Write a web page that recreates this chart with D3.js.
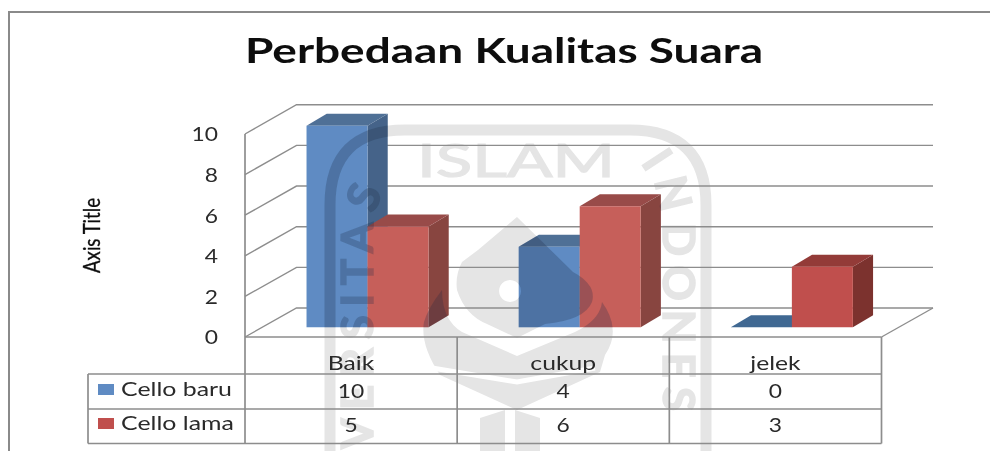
<!DOCTYPE html>
<html><head><meta charset="utf-8">
<script src="https://cdn.jsdelivr.net/npm/d3@7"></script>
<style>html,body{margin:0;padding:0;background:#fff}svg{display:block}text{font-family:Lato,"Open Sans",sans-serif}</style>
</head><body><svg id="c" width="990" height="451"></svg>
<script>
const titleText = "Perbedaan Kualitas Suara";
const axisTitle = "Axis Title";
const categories = ["Baik", "cukup", "jelek"];
const seriesNames = ["Cello baru", "Cello lama"];
const celloBaru = [10, 4, 0];
const celloLama = [5, 6, 3];
const yTicks = [0, 2, 4, 6, 8, 10];

const blueShades = {front:"#5e8bc3", top:"#4f6f96", side:"#446489"};
const redShades = {front:"#c65f5a", top:"#984b48", side:"#884541"};
const redShadesPlain = {front:"#c0504d", top:"#933a37", side:"#7c302e"};
const gridColor = "#8d8d8d", inkColor = "#2a2a2a", markColor = "#e5e5e5";

const svg = d3.select("#c");
const defs = svg.append("defs");
defs.html('<filter id="soft" x="0" y="0" width="990" height="451" filterUnits="userSpaceOnUse"><feGaussianBlur stdDeviation="0.45"/></filter>');
const root = svg.append("g").attr("filter", "url(#soft)");

const yFront = d3.scaleLinear().domain([0, 10]).range([337, 134]);
const yBack  = d3.scaleLinear().domain([0, 10]).range([308, 104.7]);
const yBar   = d3.scaleLinear().domain([0, 10]).range([327.3, 125.7]);
const xCat = d3.scaleBand().domain(categories).range([245, 881.5]);
const xBar = d => xCat(d) + xCat.bandwidth() * 0.29;
const barW = xCat.bandwidth() * 0.2875;
const depth = {dx: 51.5, dy: -29};
const barDepth = {dx: 20.2, dy: -12};

function stretch(sel, f) {
  sel.each(function () {
    const len = this.getComputedTextLength();
    d3.select(this).attr("textLength", len * f).attr("lengthAdjust", "spacingAndGlyphs");
  });
  return sel;
}

// Frame
root.append("path").attr("d", "M9,451V12H990").attr("fill", "none").attr("stroke", "#8a8a8a").attr("stroke-width", 2);

// Watermark (university emblem behind the chart)
const wm = root.append("g").attr("color", markColor).append("g").attr("id", "wm");
wm.append("path").attr("d", "M330,451V205Q330,130 405,130H630Q706,130 706,205V451").attr("fill", "none").attr("stroke", "currentColor").attr("stroke-width", 11);
wm.append("text").attr("x", 417).attr("y", 177).attr("font-size", 47)
  .attr("fill", "currentColor").attr("stroke", "currentColor").attr("stroke-width", 1.2)
  .attr("textLength", 198).attr("lengthAdjust", "spacingAndGlyphs").text("ISLAM");
wm.append("path").attr("id", "wmL").attr("d", "M373,449V235Q373,205 390,180").attr("fill", "none");
wm.append("path").attr("id", "wmR").attr("d", "M640,163Q663,190 663,235V449").attr("fill", "none");
wm.append("text").attr("font-size", 44).attr("font-weight", 700).attr("fill", "currentColor").attr("stroke", "currentColor").attr("stroke-width", 1.5).attr("letter-spacing", 8.5)
  .append("textPath").attr("href", "#wmL").text("VERSITAS");
wm.append("text").attr("font-size", 44).attr("font-weight", 700).attr("fill", "currentColor").attr("stroke", "currentColor").attr("stroke-width", 1.5).attr("letter-spacing", 9)
  .append("textPath").attr("href", "#wmR").text("INDONES");
wm.append("path").attr("fill", "currentColor").attr("fill-rule", "evenodd")
  .attr("d", "M517,217L573,272Q597,285 592,302Q585,320 545,324L517,338L487,324Q465,315 457,290Q455,275 462,262L478,250ZM510,280a11,11 0 1,0 0.1,0Z");
wm.append("path").attr("fill", "currentColor")
  .attr("d", "M602,302Q622,330 605,355L600,372L517,410L440,375Q420,345 424,322Q428,308 442,290Q442,320 462,332L517,356L575,332Q600,320 602,302Z");
wm.append("path").attr("fill", "none").attr("stroke", "#fff").attr("stroke-width", 5).attr("d", "M432,368L517,382L595,368");
wm.append("path").attr("fill", "currentColor").attr("d", "M480,451V418L505,410V451ZM515,451V410L540,418V451Z");

// Walls and gridlines
const wall = root.append("g").attr("fill", "none").attr("stroke", gridColor).attr("stroke-width", 1.4);
wall.selectAll("path.g").data(yTicks).join("path").attr("class", "g")
  .attr("d", v => d3.line()([[xCat.range()[0], yFront(v)], [xCat.range()[0] + depth.dx, yBack(v)], [xCat.range()[1] + depth.dx, yBack(v)]]));
wall.append("path").attr("d", d3.line()([[xCat.range()[1] + depth.dx, yBack(0)], [xCat.range()[1], yFront(0)]]));

// Bars
const barRows = [];
categories.forEach((c, i) => {
  barRows.push({c, i, s: 0, v: celloBaru[i], shades: blueShades});
  barRows.push({c, i, s: 1, v: celloLama[i], shades: i === 2 ? redShadesPlain : redShades});
});
const barFaces = d => {
  const x0 = xBar(d.c) + d.s * barW, x1 = x0 + barW, y0 = yBar(0), y1 = yBar(d.v), a = barDepth.dx, b = barDepth.dy;
  return {
    side: d3.line()([[x1, y0], [x1 + a, y0 + b], [x1 + a, y1 + b], [x1, y1]]) + "Z",
    top: d3.line()([[x0, y1], [x0 + a, y1 + b], [x1 + a, y1 + b], [x1, y1]]) + "Z",
    front: d3.line()([[x0, y0], [x1, y0], [x1, y1], [x0, y1]]) + "Z"
  };
};
const bars = root.append("g");
barRows.forEach(d => {
  const f = barFaces(d), g = bars.append("g");
  g.append("path").attr("d", f.side).attr("fill", d.shades.side);
  g.append("path").attr("d", f.top).attr("fill", d.v === 0 ? "#3f6792" : d.shades.top);
  g.append("path").attr("d", f.front).attr("fill", d.shades.front);
});
const clip = defs.append("clipPath").attr("id", "barClip");
barRows.forEach(d => { const f = barFaces(d); clip.append("path").attr("d", f.side + f.top + f.front); });
// The watermark shows through the bars as a darker shade: reuse it, no second set of text
root.append("g").attr("clip-path", "url(#barClip)").attr("opacity", 0.25).attr("color", "#1f2a44")
  .append("use").attr("href", "#wm");

// Value axis
const axis = root.append("g").attr("transform", "translate(218,0)")
  .call(d3.axisLeft(yFront).tickValues(yTicks).tickSize(0).tickPadding(0).tickFormat(d3.format("d")));
axis.select(".domain").remove();
axis.selectAll("text").attr("font-size", 19).attr("fill", inkColor).attr("dy", "0.36em")
  .style("font-family", "Lato").call(stretch, 1.2);

// Axis title
root.append("text").attr("transform", "translate(100,235.5) rotate(-90)").attr("text-anchor", "middle")
  .attr("font-size", 23).attr("fill", "#111").attr("stroke", "#111").attr("stroke-width", 0.35)
  .attr("textLength", 75).attr("lengthAdjust", "spacingAndGlyphs").text(axisTitle);

// Chart title
root.append("text").attr("x", 245).attr("y", 63).attr("font-size", 34).attr("font-weight", 700).attr("fill", "#0a0a0a")
  .attr("textLength", 518).attr("lengthAdjust", "spacingAndGlyphs").text(titleText);

// Data table
const rowY = [337, 374, 409, 443.5];
const tableLeft = 88;
const grid = root.append("g").attr("stroke", gridColor).attr("stroke-width", 1.7).attr("fill", "none");
xCat.domain().concat(["end"]).forEach((c, i) => {
  const x = c === "end" ? xCat.range()[1] : xCat(c);
  grid.append("line").attr("x1", x).attr("x2", x).attr("y1", i === 0 ? yFront(10) : rowY[0]).attr("y2", rowY[3]);
});
rowY.forEach((y, i) => grid.append("line").attr("x1", i === 0 ? xCat.range()[0] : tableLeft).attr("x2", xCat.range()[1]).attr("y1", y).attr("y2", y));
grid.append("line").attr("x1", tableLeft).attr("x2", tableLeft).attr("y1", rowY[1]).attr("y2", rowY[3]);

const cell = (x, y, t, f) => root.append("text").attr("x", x).attr("y", y).attr("text-anchor", "middle")
  .attr("font-size", 19).attr("fill", inkColor).text(t).call(stretch, f);
categories.forEach((c, i) => {
  const cx = xCat(c) + xCat.bandwidth() * 0.5;
  cell(cx, 370, c, 1.3);
  cell(cx, 398, celloBaru[i], 1.2);
  cell(cx, 432, celloLama[i], 1.2);
});
seriesNames.forEach((n, i) => {
  root.append("rect").attr("x", 98).attr("y", [384, 418][i]).attr("width", 16).attr("height", 11)
    .attr("fill", [blueShades.front, redShadesPlain.front][i]);
  root.append("text").attr("x", 121).attr("y", [396, 430][i]).attr("font-size", 19).attr("fill", inkColor).text(n).call(stretch, 1.31);
});
</script></body></html>
